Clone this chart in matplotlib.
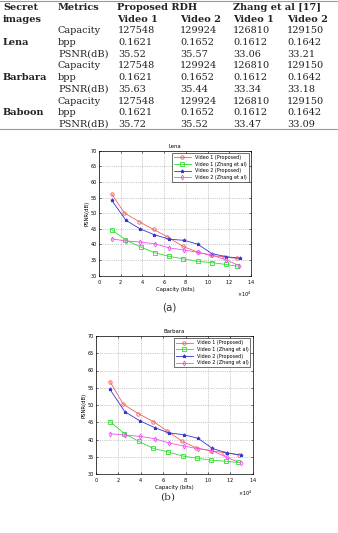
import numpy as np
import matplotlib.pyplot as plt
from matplotlib.ticker import MultipleLocator

# ---- table data ----
images = ["Lena", "Barbara", "Baboon"]
metrics = ["Capacity", "bpp", "PSNR(dB)"]
prop_v1 = [["127548", "0.1621", "35.52"],
           ["127548", "0.1621", "35.63"],
           ["127548", "0.1621", "35.72"]]
prop_v2 = [["129924", "0.1652", "35.57"],
           ["129924", "0.1652", "35.44"],
           ["129924", "0.1652", "35.52"]]
zhang_v1 = [["126810", "0.1612", "33.06"],
            ["126810", "0.1612", "33.34"],
            ["126810", "0.1612", "33.47"]]
zhang_v2 = [["129150", "0.1642", "33.21"],
            ["129150", "0.1642", "33.18"],
            ["129150", "0.1642", "33.09"]]

# ---- chart data (capacity in bits, PSNR in dB) ----
lena_x_p1 = [11700, 23300, 36800, 50300, 62600, 77400, 90900, 103000, 115000, 127548]
lena_y_p1 = [56.2, 50.1, 47.3, 44.8, 42.5, 39.4, 37.5, 36.5, 36.0, 35.52]
lena_x_z1 = [11700, 24300, 39000, 51600, 64500, 77400, 90900, 103800, 116700, 126810]
lena_y_z1 = [44.7, 41.5, 39.1, 37.3, 36.2, 35.4, 34.6, 34.2, 33.6, 33.06]
lena_x_p2 = [11700, 24900, 37800, 51000, 64500, 78600, 90900, 103800, 116700, 129924]
lena_y_p2 = [54.1, 47.7, 45.0, 43.1, 41.7, 41.3, 40.1, 37.1, 36.1, 35.57]
lena_x_z2 = [11700, 24900, 37800, 51600, 64500, 78600, 90900, 103800, 116700, 129150]
lena_y_z2 = [41.8, 41.1, 40.8, 40.2, 38.9, 38.2, 37.5, 36.6, 35.1, 33.21]

barb_x_p1 = [12500, 24400, 37800, 51200, 63500, 76900, 89400, 102500, 114400, 127548]
barb_y_p1 = [56.8, 50.2, 47.5, 45.2, 42.5, 39.5, 37.6, 36.7, 36.2, 35.63]
barb_x_z1 = [12500, 25300, 38100, 51200, 64600, 77400, 90000, 102500, 115900, 126810]
barb_y_z1 = [45.2, 41.7, 39.5, 37.4, 36.4, 35.2, 34.6, 34.0, 33.7, 33.34]
barb_x_p2 = [12500, 25900, 39300, 52700, 65200, 78600, 91400, 104000, 116800, 129924]
barb_y_p2 = [54.5, 48.0, 45.4, 43.4, 41.9, 41.4, 40.3, 37.4, 36.1, 35.44]
barb_x_z2 = [12500, 25900, 39300, 52700, 65200, 78600, 91400, 104000, 116800, 129150]
barb_y_z2 = [41.7, 41.3, 40.9, 40.2, 39.0, 38.1, 37.3, 36.8, 34.8, 33.18]

labels = ["Video 1 (Proposed)", "Video 1 (Zhang et al)",
          "Video 2 (Proposed)", "Video 2 (Zhang et al)"]

fig = plt.figure(figsize=(3.38, 5.33), dpi=100)

# ---- table ----
serif = "DejaVu Serif"
H = 533.0
W = 338.0
def fx(px):
    return px / W
def fy(py):
    return 1 - py / H

fs = 7.0
tc = "#222222"
fig.add_artist(plt.Line2D([0, 1], [fy(0.8), fy(0.8)], color="#999999", lw=0.8))
fig.add_artist(plt.Line2D([0, 1], [fy(129), fy(129)], color="#999999", lw=0.8))

row0 = 7.5
dr = 11.7
hdr = dict(fontsize=fs, family=serif, weight="bold", va="center", color=tc)
fig.text(fx(3), fy(row0), "Secret", **hdr)
fig.text(fx(3), fy(row0 + dr), "images", **hdr)
fig.text(fx(58), fy(row0), "Metrics", **hdr)
fig.text(fx(117), fy(row0), "Proposed RDH", **hdr)
fig.text(fx(233), fy(row0), "Zhang et al [17]", **hdr)
for cx in (117, 180, 233, 287):
    fig.text(fx(cx), fy(row0 + dr), "Video %d" % (1 if cx in (117, 233) else 2), **hdr)

cols = [prop_v1, prop_v2, zhang_v1, zhang_v2]
col_x = [118, 180, 233, 287]
for i, name in enumerate(images):
    base = row0 + 2 * dr + 3 * i * dr
    fig.text(fx(3), fy(base + dr), name, **hdr)
    for j, m in enumerate(metrics):
        yy = fy(base + j * dr)
        fig.text(fx(58), yy, m, fontsize=fs, family=serif, va="center", color=tc)
        for c, cx in zip(cols, col_x):
            fig.text(fx(cx), yy, c[i][j], fontsize=fs, family=serif, va="center", color=tc)

# ---- charts ----
def draw(ax, title, series):
    styles = [dict(color="#f06060", marker="o", mfc="none"),
              dict(color="#30dd30", marker="s", mfc="none"),
              dict(color="#3535d0", marker="*"),
              dict(color="#f050f0", marker="d", mfc="none")]
    for (x, y), st, lab in zip(series, styles, labels):
        ax.plot(x, y, lw=0.6, ms=2.5, mew=0.6, label=lab, **st)
    ax.set_xlim(0, 140000)
    ax.set_ylim(30, 70)
    ax.xaxis.set_major_locator(MultipleLocator(20000))
    ax.yaxis.set_major_locator(MultipleLocator(5))
    ax.ticklabel_format(axis="x", style="sci", scilimits=(4, 4), useMathText=True)
    ax.xaxis.get_offset_text().set_fontsize(3.5)
    ax.tick_params(labelsize=3.5, length=1.5, width=0.4, direction="in",
                   top=True, right=True, pad=1.5)
    ax.grid(True, ls=":", lw=0.5, color="#999999")
    for s in ax.spines.values():
        s.set_linewidth(0.5)
    ax.set_title(title, fontsize=3.8, pad=2)
    ax.set_xlabel("Capacity (bits)", fontsize=3.8, labelpad=1)
    ax.set_ylabel("PSNR(dB)", fontsize=3.8, labelpad=1)
    leg = ax.legend(loc="upper right", fontsize=3.5, frameon=True, fancybox=False,
                    borderaxespad=0.5, handlelength=3.5, labelspacing=0.35)
    leg.get_frame().set_edgecolor("black")
    leg.get_frame().set_linewidth(0.5)

ax1 = fig.add_axes([fx(99), fy(275.7), fx(251) - fx(99), fy(150.7) - fy(275.7)])
draw(ax1, "Lena", [(lena_x_p1, lena_y_p1), (lena_x_z1, lena_y_z1),
                   (lena_x_p2, lena_y_p2), (lena_x_z2, lena_y_z2)])

ax2 = fig.add_axes([fx(96), fy(474), fx(252.7) - fx(96), fy(336) - fy(474)])
draw(ax2, "Barbara", [(barb_x_p1, barb_y_p1), (barb_x_z1, barb_y_z1),
                      (barb_x_p2, barb_y_p2), (barb_x_z2, barb_y_z2)])

fig.text(fx(169), fy(307), "(a)", fontsize=7.5, ha="center", va="center", color="#333333")
fig.text(fx(168), fy(497), "(b)", fontsize=7.5, family=serif, ha="center", va="center", color="#333333")

fig.savefig("out.png", dpi=100)
